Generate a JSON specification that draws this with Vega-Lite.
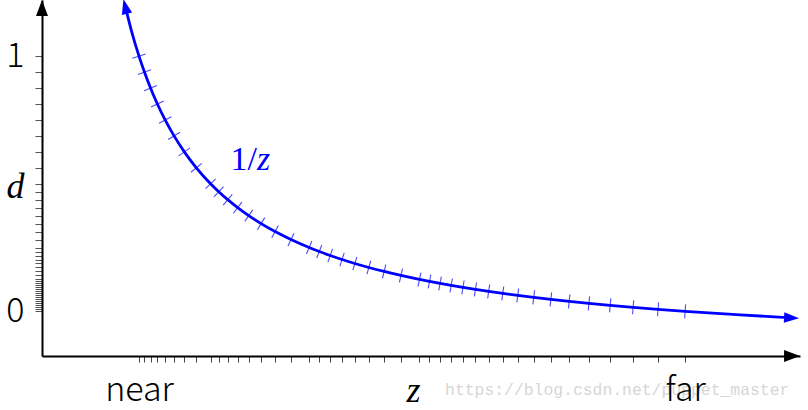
{
  "$schema": "https://vega.github.io/schema/vega-lite/v6.json",
  "width": 758,
  "height": 356,
  "autosize": {"type": "none"},
  "padding": {"left": 42, "top": 0, "right": 8, "bottom": 54},
  "background": "#ffffff",
  "config": {"view": {"stroke": null}, "axis": {"grid": false}},
  "datasets": {
    "curve": [
      {"z": 0.858, "d": 1.1949, "tick": false},
      {"z": 0.92, "d": 1.1024, "tick": false},
      {"z": 1.0, "d": 1.0, "tick": true},
      {"z": 1.05604, "d": 0.9375, "tick": true},
      {"z": 1.11876, "d": 0.875, "tick": true},
      {"z": 1.18937, "d": 0.8125, "tick": true},
      {"z": 1.2695, "d": 0.75, "tick": true},
      {"z": 1.36123, "d": 0.6875, "tick": true},
      {"z": 1.46722, "d": 0.625, "tick": true},
      {"z": 1.59111, "d": 0.5625, "tick": true},
      {"z": 1.73786, "d": 0.5, "tick": true},
      {"z": 1.82189, "d": 0.46875, "tick": true},
      {"z": 1.91446, "d": 0.4375, "tick": true},
      {"z": 2.0169, "d": 0.40625, "tick": true},
      {"z": 2.13097, "d": 0.375, "tick": true},
      {"z": 2.25871, "d": 0.34375, "tick": true},
      {"z": 2.40269, "d": 0.3125, "tick": true},
      {"z": 2.56634, "d": 0.28125, "tick": true},
      {"z": 2.75391, "d": 0.25, "tick": true},
      {"z": 2.85837, "d": 0.234375, "tick": true},
      {"z": 2.97097, "d": 0.21875, "tick": true},
      {"z": 3.09291, "d": 0.203125, "tick": true},
      {"z": 3.22529, "d": 0.1875, "tick": true},
      {"z": 3.3695, "d": 0.171875, "tick": true},
      {"z": 3.52721, "d": 0.15625, "tick": true},
      {"z": 3.70041, "d": 0.140625, "tick": true},
      {"z": 3.89135, "d": 0.125, "tick": true},
      {"z": 3.99457, "d": 0.1171875, "tick": true},
      {"z": 4.10324, "d": 0.109375, "tick": true},
      {"z": 4.21816, "d": 0.1015625, "tick": true},
      {"z": 4.33953, "d": 0.09375, "tick": true},
      {"z": 4.46828, "d": 0.0859375, "tick": true},
      {"z": 4.60469, "d": 0.078125, "tick": true},
      {"z": 4.74969, "d": 0.0703125, "tick": true},
      {"z": 4.90436, "d": 0.0625, "tick": true},
      {"z": 5.06919, "d": 0.0546875, "tick": true},
      {"z": 5.24576, "d": 0.046875, "tick": true},
      {"z": 5.43478, "d": 0.0390625, "tick": true},
      {"z": 5.63793, "d": 0.03125, "tick": true},
      {"z": 5.8572, "d": 0.0234375, "tick": true},
      {"z": 6.09385, "d": 0.015625, "tick": true},
      {"z": 6.35082, "d": 0.0078125, "tick": true},
      {"z": 6.63, "d": 0, "tick": true},
      {"z": 7.2, "d": -0.01406, "tick": false},
      {"z": 7.727, "d": -0.02521, "tick": false}
    ]
  },
  "encoding": {
    "x": {
      "field": "z",
      "type": "quantitative",
      "scale": {"domain": [0, 7.814], "nice": false, "zero": false},
      "axis": {
        "values": [1.0, 1.05604, 1.11876, 1.18937, 1.2695, 1.36123, 1.46722, 1.59111, 1.73786, 1.82189, 1.91446, 2.0169, 2.13097, 2.25871, 2.40269, 2.56634, 2.75391, 2.85837, 2.97097, 3.09291, 3.22529, 3.3695, 3.52721, 3.70041, 3.89135, 3.99457, 4.10324, 4.21816, 4.33953, 4.46828, 4.60469, 4.74969, 4.90436, 5.06919, 5.24576, 5.43478, 5.63793, 5.8572, 6.09385, 6.35082, 6.63],
        "labelExpr": "datum.value == 1 ? 'near' : (abs(datum.value - 6.63) < 0.001 ? 'far' : '')",
        "labelOverlap": false,
        "labelFlush": false,
        "labelFont": "Noto Sans CJK SC",
        "labelFontSize": 34,
        "labelFontWeight": 300,
        "labelColor": "#000000",
        "labelBaseline": "alphabetic",
        "labelPadding": 38,
        "tickSize": 6,
        "tickColor": "#444444",
        "tickWidth": 1,
        "domainColor": "#000000",
        "domainWidth": 2,
        "grid": false,
        "title": "z",
        "titleFont": "Liberation Serif",
        "titleFontStyle": "italic",
        "titleFontWeight": "normal",
        "titleFontSize": 36,
        "titleColor": "#000000",
        "titleX": 371,
        "titleY": 45,
        "titleBaseline": "alphabetic",
        "titleAlign": "center",
        "zindex": 1
      }
    },
    "y": {
      "field": "d",
      "type": "quantitative",
      "scale": {"domain": [-0.175, 1.22], "nice": false, "zero": false},
      "axis": {
        "values": [1, 0.9375, 0.875, 0.8125, 0.75, 0.6875, 0.625, 0.5625, 0.5, 0.46875, 0.4375, 0.40625, 0.375, 0.34375, 0.3125, 0.28125, 0.25, 0.234375, 0.21875, 0.203125, 0.1875, 0.171875, 0.15625, 0.140625, 0.125, 0.1171875, 0.109375, 0.1015625, 0.09375, 0.0859375, 0.078125, 0.0703125, 0.0625, 0.0546875, 0.046875, 0.0390625, 0.03125, 0.0234375, 0.015625, 0.0078125, 0],
        "labelExpr": "datum.value == 1 ? '1' : (datum.value == 0 ? '0' : '')",
        "labelOverlap": false,
        "labelFlush": false,
        "labelFont": "Noto Sans CJK SC",
        "labelFontSize": 34,
        "labelFontWeight": 300,
        "labelColor": "#000000",
        "labelBaseline": "middle",
        "labelPadding": 11,
        "tickSize": 7,
        "tickColor": "#555555",
        "tickWidth": 1,
        "domainColor": "#000000",
        "domainWidth": 2,
        "grid": false,
        "title": "d",
        "titleFont": "Liberation Serif",
        "titleFontStyle": "italic",
        "titleFontWeight": "normal",
        "titleFontSize": 36,
        "titleColor": "#000000",
        "titleAngle": 0,
        "titleX": -27,
        "titleY": 197,
        "titleBaseline": "alphabetic",
        "titleAlign": "center",
        "zindex": 1
      }
    }
  },
  "layer": [
    {
      "data": {"values": [{"z": 4.155, "d": -0.31, "label": "https://blog.csdn.net/puppet_master"}]},
      "mark": {"type": "text", "font": "Liberation Mono", "fontSize": 16.4, "color": "#d6d6d6", "align": "left", "baseline": "middle"},
      "encoding": {"text": {"field": "label"}}
    },
    {
      "data": {"name": "curve"},
      "mark": {"type": "line", "color": "#0000ff", "strokeWidth": 2.8, "interpolate": "monotone"}
    },
    {
      "data": {"name": "curve"},
      "transform": [{"filter": "datum.tick"}],
      "mark": {"type": "point", "shape": "stroke", "filled": false, "color": "#0000ff", "strokeWidth": 1.1, "size": 196},
      "encoding": {
        "angle": {
          "field": "z",
          "type": "quantitative",
          "legend": null,
          "scale": {
            "domain": [0.85, 1, 1.2, 1.4, 1.6, 1.8, 2, 2.3, 2.6, 3, 3.5, 4, 4.5, 5, 5.5, 6, 6.63, 7.8],
            "range": [-13.13, -17.89, -24.93, -32.32, -39.57, -46.28, -52.24, -59.64, -65.38, -71, -75.81, -79.04, -81.3, -82.93, -84.15, -85.08, -85.97, -87.08]
          }
        }
      }
    },
    {
      "data": {"values": [{"z": 0.858, "d": 1.1949}]},
      "mark": {"type": "point", "shape": "M0,-1L0.7,1L-0.7,1Z", "filled": true, "color": "#0000ff", "size": 225, "opacity": 1},
      "encoding": {"angle": {"value": -13.7}}
    },
    {
      "data": {"values": [{"z": 7.727, "d": -0.02521}]},
      "mark": {"type": "point", "shape": "M0,-1L0.7,1L-0.7,1Z", "filled": true, "color": "#0000ff", "size": 225, "opacity": 1},
      "encoding": {"angle": {"value": 92.97}}
    },
    {
      "data": {"values": [{"z": 0, "d": 1.1886}]},
      "mark": {"type": "point", "shape": "M0,-1L0.75,1L-0.75,1Z", "filled": true, "color": "#000000", "size": 256, "opacity": 1},
      "encoding": {"angle": {"value": 0}}
    },
    {
      "data": {"values": [{"z": 7.732, "d": -0.175}]},
      "mark": {"type": "point", "shape": "M0,-1L0.75,1L-0.75,1Z", "filled": true, "color": "#000000", "size": 256, "opacity": 1},
      "encoding": {"angle": {"value": 90}}
    },
    {
      "data": {"values": [{"z": 2.2165, "d": 0.593, "num": "1/", "var": "z"}]},
      "layer": [
        {
          "mark": {"type": "text", "font": "Liberation Serif", "fontStyle": "normal", "fontSize": 34, "color": "#0000ff", "align": "right", "baseline": "middle"},
          "encoding": {"text": {"field": "num"}}
        },
        {
          "mark": {"type": "text", "font": "Liberation Serif", "fontStyle": "italic", "fontSize": 34, "color": "#0000ff", "align": "left", "baseline": "middle"},
          "encoding": {"text": {"field": "var"}}
        }
      ]
    }
  ]
}
